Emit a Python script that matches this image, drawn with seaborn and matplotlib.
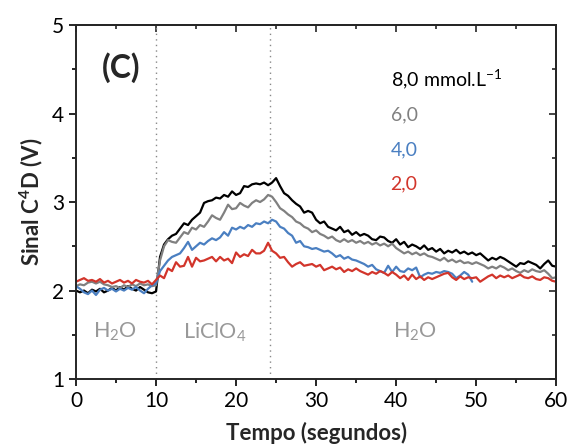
import numpy as np
import pandas as pd
import matplotlib.pyplot as plt
import seaborn as sns

# time axis of the recording (s)
time_s = np.arange(0, 60.5, 0.5)

# signal for each LiClO4 concentration (V)
sinal_8 = [2.00, 1.98, 2.00, 1.97, 2.01, 1.99, 2.02, 1.98, 2.00, 2.03,
           2.00, 2.04, 2.01, 2.05, 2.02, 2.00, 2.04, 2.01, 1.98, 1.97,
           1.99, 2.38, 2.52, 2.58, 2.62, 2.64, 2.70, 2.76, 2.74, 2.80,
           2.84, 2.88, 2.99, 3.01, 3.02, 3.05, 3.04, 3.08, 3.06, 3.12,
           3.08, 3.10, 3.18, 3.17, 3.20, 3.21, 3.20, 3.22, 3.19, 3.22,
           3.27, 3.18, 3.10, 3.07, 3.02, 2.98, 2.95, 2.88, 2.90, 2.88,
           2.80, 2.76, 2.78, 2.72, 2.70, 2.68, 2.72, 2.66, 2.68, 2.63,
           2.66, 2.62, 2.64, 2.62, 2.58, 2.57, 2.61, 2.60, 2.56, 2.54,
           2.58, 2.52, 2.55, 2.49, 2.52, 2.50, 2.47, 2.51, 2.46, 2.48,
           2.44, 2.47, 2.42, 2.45, 2.43, 2.46, 2.42, 2.44, 2.41, 2.43,
           2.40, 2.42, 2.38, 2.34, 2.37, 2.35, 2.38, 2.36, 2.33, 2.30,
           2.27, 2.31, 2.30, 2.33, 2.31, 2.29, 2.25, 2.30, 2.34, 2.28,
           2.27]
sinal_6 = [2.05, 2.07, 2.06, 2.09, 2.10, 2.08, 2.10, 2.07, 2.06, 2.04,
           2.05, 2.03, 2.06, 2.04, 2.07, 2.05, 2.08, 2.06, 2.07, 2.05,
           2.06, 2.34, 2.50, 2.57, 2.55, 2.54, 2.60, 2.66, 2.64, 2.71,
           2.69, 2.74, 2.72, 2.78, 2.85, 2.82, 2.80, 2.88, 2.97, 2.92,
           2.93, 2.99, 2.96, 2.94, 2.99, 3.02, 3.00, 3.03, 3.08, 3.06,
           3.00, 2.93, 2.90, 2.86, 2.83, 2.78, 2.76, 2.72, 2.70, 2.66,
           2.68, 2.64, 2.62, 2.59, 2.61, 2.57, 2.55, 2.58, 2.55, 2.57,
           2.54, 2.56, 2.53, 2.55, 2.52, 2.54, 2.51, 2.53, 2.50, 2.53,
           2.48, 2.45, 2.42, 2.44, 2.41, 2.43, 2.40, 2.42, 2.39, 2.38,
           2.36, 2.34, 2.37, 2.33, 2.35, 2.32, 2.34, 2.31, 2.32, 2.30,
           2.32, 2.30, 2.28, 2.25, 2.27, 2.25, 2.28, 2.26, 2.23, 2.25,
           2.22, 2.20, 2.23, 2.21, 2.24, 2.22, 2.21, 2.23, 2.19, 2.14,
           2.15]
sinal_4 = [2.05, 2.02, 1.98, 1.96, 2.00, 1.95, 2.01, 2.03, 2.00, 2.02,
           1.99, 2.02, 2.00, 2.03, 2.01, 2.04, 2.00, 1.97, 2.02, 2.06,
           2.08, 2.22, 2.28, 2.34, 2.38, 2.40, 2.42, 2.48, 2.55, 2.46,
           2.50, 2.54, 2.52, 2.56, 2.59, 2.57, 2.60, 2.66, 2.62, 2.71,
           2.69, 2.72, 2.70, 2.74, 2.72, 2.76, 2.75, 2.78, 2.76, 2.80,
           2.78, 2.72, 2.70, 2.65, 2.62, 2.54, 2.56, 2.50, 2.49, 2.47,
           2.48, 2.46, 2.44, 2.45, 2.42, 2.38, 2.40, 2.36, 2.38, 2.35,
           2.34, 2.32, 2.30, 2.27, 2.29, 2.24, 2.22, 2.20, 2.28, 2.21,
           2.27, 2.22, 2.21, 2.25, 2.23, 2.26, 2.15, 2.18, 2.20, 2.19,
           2.21, 2.20, 2.22, 2.21, 2.19, 2.14, 2.17, 2.21, 2.18, 2.10]
sinal_2 = [2.10, 2.12, 2.14, 2.11, 2.12, 2.10, 2.13, 2.09, 2.11, 2.08,
           2.10, 2.12, 2.09, 2.11, 2.08, 2.12, 2.10, 2.09, 2.11, 2.07,
           2.12, 2.17, 2.14, 2.25, 2.22, 2.32, 2.27, 2.28, 2.38, 2.27,
           2.37, 2.33, 2.34, 2.36, 2.38, 2.33, 2.38, 2.34, 2.36, 2.31,
           2.43, 2.38, 2.41, 2.39, 2.46, 2.42, 2.42, 2.45, 2.54, 2.45,
           2.42, 2.37, 2.38, 2.32, 2.27, 2.30, 2.32, 2.28, 2.29, 2.30,
           2.27, 2.29, 2.23, 2.25, 2.27, 2.24, 2.26, 2.21, 2.24, 2.22,
           2.25, 2.22, 2.20, 2.18, 2.21, 2.19, 2.22, 2.20, 2.17, 2.21,
           2.18, 2.14, 2.17, 2.12, 2.18, 2.13, 2.16, 2.12, 2.15, 2.13,
           2.15, 2.17, 2.19, 2.20, 2.15, 2.12, 2.16, 2.13, 2.15, 2.14,
           2.15, 2.10, 2.13, 2.16, 2.18, 2.14, 2.17, 2.15, 2.17, 2.14,
           2.16, 2.18, 2.15, 2.14, 2.16, 2.13, 2.12, 2.15, 2.14, 2.11,
           2.10]

conc_names = ['8,0', '6,0', '4,0', '2,0']
conc_labels = ['8,0 mmol.L$^{-1}$', '6,0', '4,0', '2,0']
conc_colors = ['#000000', '#808080', '#4a7fc1', '#d2352b']

# solution changes (s) and region labels
switch_times = [10.0, 24.2]
region_labels = ['H$_2$O', 'LiClO$_4$', 'H$_2$O']
region_pos = [4.9, 17.3, 42.4]

sns.set_theme(style='ticks')
plt.rcParams['font.family'] = ['Lato', 'DejaVu Sans']
plt.rcParams['mathtext.fontset'] = 'custom'
plt.rcParams['mathtext.rm'] = 'Lato'
plt.rcParams['mathtext.bf'] = 'Lato:bold'

frames = []
for name, vals in zip(conc_names, [sinal_8, sinal_6, sinal_4, sinal_2]):
    frames.append(pd.DataFrame({'Tempo': time_s[:len(vals)], 'Sinal': vals, 'conc': name}))
df = pd.concat(frames, ignore_index=True)

fig = plt.figure(figsize=(5.67, 4.46), dpi=100)
ax = fig.add_axes([0.134, 0.150, 0.847, 0.794])

for t in switch_times:
    ax.axvline(t, color='#888888', lw=1, ls=(0, (1, 3)), zorder=1)

sns.lineplot(data=df, x='Tempo', y='Sinal', hue='conc', hue_order=conc_names,
             palette=conc_colors, estimator=None, legend=False, lw=1.6, ax=ax)

ax.set_xlim(0, 60)
ax.set_ylim(1, 5)
ax.set_xticks(range(0, 61, 10))
ax.set_xticks(range(5, 60, 10), minor=True)
ax.set_yticks(range(1, 6))
ax.set_yticks(np.arange(1.5, 5, 1.0), minor=True)
ax.tick_params(which='both', direction='out', labelsize=15, width=1.2, colors='black')
ax.tick_params(which='major', length=5)
ax.tick_params(which='minor', length=3)
for s in ax.spines.values():
    s.set_linewidth(1.4)
    s.set_visible(True)

# inward ticks on top and right
top = ax.secondary_xaxis('top')
top.set_xticks(range(0, 61, 10))
top.set_xticks(range(5, 60, 10), minor=True)
top.tick_params(which='both', direction='in', labeltop=False, width=1.2)
top.tick_params(which='major', length=5)
top.tick_params(which='minor', length=3)
right = ax.secondary_yaxis('right')
right.set_yticks(range(1, 6))
right.set_yticks(np.arange(1.5, 5, 1.0), minor=True)
right.tick_params(which='both', direction='in', labelright=False, width=1.2)
right.tick_params(which='major', length=5)
right.tick_params(which='minor', length=3)

ax.set_xlabel('Tempo (segundos)', fontsize=16, fontweight='bold', labelpad=8)
ax.set_ylabel(r'Sinal C$^{\mathbf{4}}$D (V)', fontsize=16, fontweight='bold', labelpad=5)

ax.text(5.7, 4.52, '(C)', fontsize=23, fontweight='bold', ha='center', va='center')

for lab, col, y in zip(conc_labels, conc_colors, [4.38, 3.98, 3.59, 3.21]):
    ax.text(39.3, y, lab, color=col, fontsize=14, ha='left', va='center')

for lab, x in zip(region_labels, region_pos):
    ax.text(x, 1.53, lab, color='#999999', fontsize=15.5, ha='center', va='center')

fig.savefig('out.png', dpi=100)
